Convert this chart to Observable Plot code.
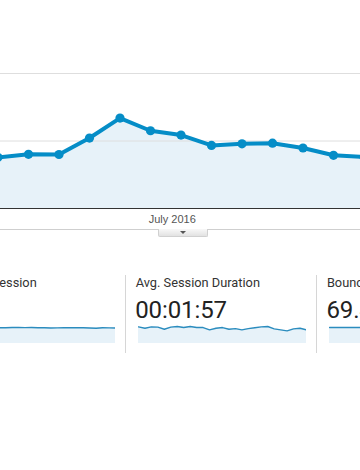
<!DOCTYPE html>
<html>
<head>
<meta charset="utf-8">
<script src="https://cdn.jsdelivr.net/npm/d3@7"></script>
<script src="https://cdn.jsdelivr.net/npm/@observablehq/plot@0.6"></script>
<style>
  html, body { margin: 0; padding: 0; background: #fff; }
  #root { position: relative; width: 360px; height: 470px; overflow: hidden; font-family: Roboto, "Noto Sans", sans-serif; }
  #main { position: absolute; left: 0; top: 0; }
  #main svg { background: transparent; overflow: hidden; }
  .hr { position: absolute; left: 0; top: 229px; width: 360px; height: 1px; background: #cfcfcf; }
  .tab { position: absolute; left: 158px; top: 229px; width: 48px; height: 7px; border: 1px solid #d0d0d0; border-top: none;
         background: linear-gradient(#f8f8f8, #e2e2e2); border-radius: 0 0 2px 2px; }
  .tab .tri { position: absolute; left: 21px; top: 2px; width: 0; height: 0; border-left: 3.5px solid transparent;
              border-right: 3.5px solid transparent; border-top: 3.5px solid #555; }
  .panel { position: absolute; top: 0; width: 191px; height: 470px; }
  .sep { position: absolute; left: -11px; top: 275px; width: 1px; height: 78px; background: #d6d6d6; }
  .label { position: absolute; left: 0; top: 275px; font-size: 12.8px; color: #333; white-space: nowrap; }
  .value { position: absolute; left: -0.5px; top: 296px; font-size: 24px; color: #222; white-space: nowrap; letter-spacing: -0.1px; }
  .spark { position: absolute; left: 2px; top: 323px; }
  .spark svg { background: transparent; }
</style>
</head>
<body>
<div id="root">
  <div id="main"></div>
  <div class="hr"></div>
  <div class="tab"><div class="tri"></div></div>
</div>
<script>
// ---- Main chart data (weekly sessions) ----
const weeks = ["2016-05-22","2016-05-29","2016-06-05","2016-06-12","2016-06-19","2016-06-26",
               "2016-07-03","2016-07-10","2016-07-17","2016-07-24","2016-07-31","2016-08-07","2016-08-14"];
const sessions = [379, 401, 400, 522, 670, 576, 544, 467, 479, 484, 448, 394, 382];
const yTicks = [500, 1000];
const xTickDates = ["2016-07-01"];

// ---- Metric panels ----
const metricLabels = ["Pages / Session", "Avg. Session Duration", "Bounce Rate"];
const metricValues = ["1.93", "00:01:57", "69.45%"];
const pagesSpark = [1.93, 1.95, 1.90, 1.96, 1.92, 1.94, 1.91, 1.95, 1.93, 1.92, 1.95, 1.96, 1.94, 1.95,
                    1.93, 1.92, 1.90, 1.91, 1.94, 1.93, 1.92, 1.93, 1.90, 1.86, 1.92, 1.91, 1.90];
const durationSpark = [129, 119, 129, 127, 111, 127, 132, 124, 132, 124, 124, 106, 119, 124,
                       111, 116, 106, 116, 122, 129, 132, 114, 106, 98, 114, 119, 106];
const bounceSpark = [69.3, 69.6, 69.1, 69.8, 69.4, 69.5, 69.2, 69.7, 69.5, 69.3, 69.6, 69.4, 69.2, 69.5,
                     69.7, 69.4, 69.3, 69.6, 69.5, 69.2, 69.4, 69.6, 69.3, 69.5, 69.4, 69.6, 69.5];
const sparkMax = [2.2, 140, 78];

const data = weeks.map((w, i) => ({date: new Date(w), sessions: sessions[i]}));
const blue = "#058dc7";
const fillBlue = "#e7f2f9";

const main = Plot.plot({
  width: 360, height: 240,
  marginTop: 73, marginBottom: 32, marginLeft: 0, marginRight: 0,
  style: {background: "transparent", color: "#555", fontFamily: "Arial, 'Liberation Sans', sans-serif"},
  x: {type: "utc", domain: [data[0].date, data[data.length - 1].date], range: [-2.5, 363.5]},
  y: {domain: [0, 1000], axis: null},
  marks: [
    Plot.areaY(data, {x: "date", y: "sessions", fill: fillBlue, clip: true}),
    Plot.gridY(yTicks, {stroke: "#dedede", strokeOpacity: 1}),
    Plot.ruleY([0], {stroke: "#333", strokeWidth: 1}),
    Plot.lineY(data, {x: "date", y: "sessions", stroke: blue, strokeWidth: 4, clip: true}),
    Plot.dot(data, {x: "date", y: "sessions", r: 4.6, fill: blue, stroke: null, clip: true}),
    Plot.axisX(xTickDates.map(d => new Date(d)), {
      tickSize: 0, tickPadding: 7, fontSize: 11, tickFormat: d3.utcFormat("%B %Y")
    })
  ]
});
document.getElementById("main").appendChild(main);

const sparks = [pagesSpark, durationSpark, bounceSpark];
const root = document.getElementById("root");
metricLabels.forEach((lab, k) => {
  const p = document.createElement("div");
  p.className = "panel";
  p.style.left = (-55.5 + k * 191.2) + "px";
  if (k > 0) { const s = document.createElement("div"); s.className = "sep"; p.appendChild(s); }
  const l = document.createElement("div"); l.className = "label"; l.textContent = lab; p.appendChild(l);
  const v = document.createElement("div"); v.className = "value"; v.textContent = metricValues[k]; p.appendChild(v);
  const sp = document.createElement("div"); sp.className = "spark";
  const vals = sparks[k].map((y, i) => ({i, y}));
  sp.appendChild(Plot.plot({
    width: 168, height: 20, marginTop: 2, marginBottom: 0, marginLeft: 0, marginRight: 0,
    style: {background: "transparent"},
    x: {domain: [0, vals.length - 1], axis: null},
    y: {domain: [0, sparkMax[k]], axis: null},
    marks: [
      Plot.areaY(vals, {x: "i", y: "y", fill: fillBlue}),
      Plot.lineY(vals, {x: "i", y: "y", stroke: "#2b8cbe", strokeWidth: 1.4})
    ]
  }));
  p.appendChild(sp);
  root.appendChild(p);
});
</script>
</body>
</html>
